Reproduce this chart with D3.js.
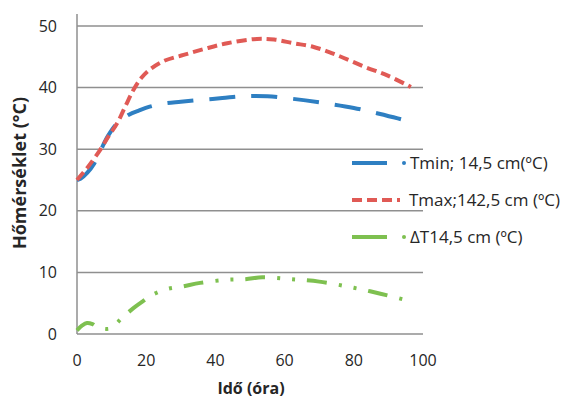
<!DOCTYPE html>
<html>
<head>
<meta charset="utf-8">
<script src="https://cdn.jsdelivr.net/npm/d3@7"></script>
<style>
  body { margin: 0; background: #fff; }
  text { font-family: "Open Sans", "Liberation Sans", sans-serif; fill: #262626; }
</style>
</head>
<body>
<div id="chart"></div>
<script>
// Hőmérséklet vs idő, three series

const width = 569,
  height = 401;

const xTicks = [0, 20, 40, 60, 80, 100];
const yTicks = [0, 10, 20, 30, 40, 50];

const tminHours = [0, 1, 3, 5, 7, 9, 11.6, 15, 18, 21, 25, 30, 35.6, 42, 48, 55, 62, 70, 80, 87, 92.7, 96.5];
const tminValues = [25, 25.2, 26.2, 27.7, 30, 32.2, 34.2, 35.6, 36.3, 36.9, 37.4, 37.7, 38, 38.3, 38.6, 38.6, 38.2, 37.6, 36.7, 35.8, 35, 34.4];

const tmaxHours = [0, 3, 6.7, 9, 11.6, 14, 16.3, 18.5, 21, 25, 30.8, 37, 43.4, 52, 57, 62.6, 68.4, 75, 83, 90, 96.5];
const tmaxValues = [25, 27, 29.9, 32, 34.2, 37, 39.6, 41.5, 42.9, 44.3, 45.3, 46.3, 47.2, 47.9, 47.8, 47.2, 46.6, 45.3, 43.4, 41.9, 40.1];

const dtHours = [0, 1.5, 2.9, 4.5, 6, 9.6, 13, 16.3, 19, 21.6, 26, 30.4, 35.6, 43.4, 48.7, 53.6, 61.7, 70, 80, 88, 96.5];
const dtValues = [0.6, 1.4, 1.8, 1.6, 1.1, 0.9, 2.6, 4.2, 5.3, 6.3, 7.3, 7.7, 8.3, 8.8, 8.9, 9.2, 8.9, 8.5, 7.5, 6.5, 5.3];

const seriesNames = ["Tmin; 14,5 cm(ºC)", "Tmax;142,5 cm (ºC)", "ΔT14,5 cm (ºC)"];
const seriesColors = ["#2e7fc2", "#e05a55", "#7ec050"];

const margin = { top: 26, right: 146, bottom: 67, left: 77 };

const svg = d3.select("#chart")
  .append("svg")
  .attr("width", width)
  .attr("height", height);

const x = d3.scaleLinear()
  .domain([0, 100])
  .range([margin.left, width - margin.right]);

const y = d3.scaleLinear()
  .domain([0, 50])
  .range([height - margin.bottom, margin.top]);

// horizontal gridlines
svg.append("g")
  .selectAll("line")
  .data(yTicks)
  .join("line")
  .attr("x1", x(0))
  .attr("x2", x(100))
  .attr("y1", d => y(d))
  .attr("y2", d => y(d))
  .attr("stroke", "#8f8f8f")
  .attr("stroke-width", 1.5);

// left axis line
svg.append("line")
  .attr("x1", x(0)).attr("x2", x(0))
  .attr("y1", y(0)).attr("y2", y(50) - 12)
  .attr("stroke", "#8f8f8f")
  .attr("stroke-width", 1.5);

// tick labels
svg.append("g")
  .selectAll("text")
  .data(yTicks)
  .join("text")
  .attr("x", x(0) - 20)
  .attr("y", d => y(d))
  .attr("dy", "0.35em")
  .attr("text-anchor", "end")
  .attr("font-size", 16)
  .text(d => d);

svg.append("g")
  .selectAll("text")
  .data(xTicks)
  .join("text")
  .attr("x", d => x(d))
  .attr("y", y(0) + 26)
  .attr("dy", "0.35em")
  .attr("text-anchor", "middle")
  .attr("font-size", 16)
  .text(d => d);

// axis titles
svg.append("text")
  .attr("x", 251)
  .attr("y", 388)
  .attr("dy", "0.35em")
  .attr("text-anchor", "middle")
  .attr("font-size", 16)
  .attr("font-weight", "bold")
  .text("Idő (óra)");

svg.append("text")
  .attr("transform", `translate(20, 173) rotate(-90)`)
  .attr("dy", "0.35em")
  .attr("text-anchor", "middle")
  .attr("font-size", 18)
  .attr("font-weight", "bold")
  .text("Hőmérséklet (°C)");

const line = d3.line()
  .x(d => x(d[0]))
  .y(d => y(d[1]))
  .curve(d3.curveCatmullRom);

const series = [
  { pts: d3.zip(tminHours, tminValues), dash: "26,16" },
  { pts: d3.zip(tmaxHours, tmaxValues), dash: "10,5" },
  { pts: d3.zip(dtHours, dtValues), dash: "20,12,3,12,3,12" }
];

svg.append("g")
  .selectAll("path")
  .data(series)
  .join("path")
  .attr("d", d => line(d.pts))
  .attr("fill", "none")
  .attr("stroke", (d, i) => seriesColors[i])
  .attr("stroke-width", 4)
  .attr("stroke-dasharray", d => d.dash);

// legend
const legend = svg.append("g")
  .selectAll("g")
  .data(seriesNames)
  .join("g")
  .attr("transform", (d, i) => `translate(352, ${163 + i * 37})`);

legend.append("line")
  .attr("x1", 0)
  .attr("x2", (d, i) => i === 1 ? 48 : 35)
  .attr("stroke", (d, i) => seriesColors[i])
  .attr("stroke-width", 4)
  .attr("stroke-dasharray", (d, i) => i === 1 ? "10,5" : null);

legend.filter((d, i) => i !== 1)
  .append("circle")
  .attr("cx", 52)
  .attr("r", 2)
  .attr("fill", (d, i) => seriesColors[i * 2]);

legend.append("text")
  .attr("x", (d, i) => i === 1 ? 57 : 58)
  .attr("dy", "0.35em")
  .attr("font-size", 17)
  .text(d => d);
</script>
</body>
</html>
